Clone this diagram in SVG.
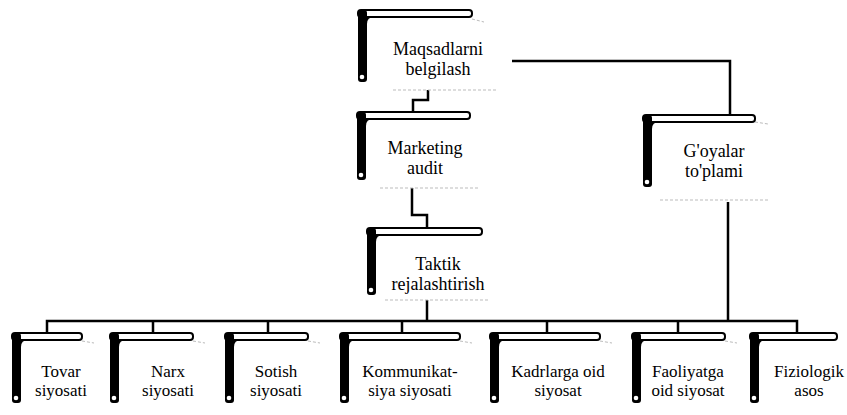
<svg xmlns="http://www.w3.org/2000/svg" width="847" height="415" viewBox="0 0 847 415">
<style>
.tab{fill:#fff;stroke:#000;stroke-width:2}
.bar{fill:#000}
.hole{fill:#fff}
.page{fill:none;stroke:#bbb;stroke-width:1;stroke-dasharray:3 2}
.conn{fill:none;stroke:#000;stroke-width:2.5}
.t1{font-family:"Liberation Serif","Times New Roman",serif;font-size:18px;fill:#000;text-anchor:middle}
.t2{font-family:"Liberation Serif","Times New Roman",serif;font-size:17px;fill:#000;text-anchor:middle}
</style>
<rect width="847" height="415" fill="#fff"/>
<g id="connectors">
<path class="conn" d="M428,90 V100 H413 V112"/>
<path class="conn" d="M412,188 V215 H427 V228"/>
<path class="conn" d="M427,300 V321"/>
<path class="conn" d="M512,61 H730 V115"/>
<path class="conn" d="M728,202 V321"/>
<path class="conn" d="M47,333 V321 H797 V333"/>
<path class="conn" d="M153,321 V333 M268,321 V333 M402,321 V333 M547,321 V333 M678,321 V333"/>
</g>
<g id="n-maqsad">
<line class="page" x1="393" y1="90" x2="497" y2="90"/>
<line class="page" x1="472" y1="19" x2="484" y2="22"/>
<rect class="tab" x="358" y="10" width="114" height="7" rx="3"/>
<rect class="bar" x="358" y="10" width="9" height="72" rx="3"/>
<path class="bar" d="M367,17 h7 q-7,0 -7,7 z"/>
<circle class="hole" cx="362" cy="77" r="2.3"/>
<text class="t1" x="438" y="55">Maqsadlarni</text>
<text class="t1" x="438" y="75">belgilash</text>
</g>
<g id="n-marketing">
<line class="page" x1="380" y1="188" x2="480" y2="188"/>
<rect class="tab" x="357" y="112" width="113" height="7" rx="3"/>
<rect class="bar" x="357" y="112" width="9" height="68" rx="3"/>
<path class="bar" d="M366,119 h7 q-7,0 -7,7 z"/>
<circle class="hole" cx="361" cy="175" r="2.3"/>
<text class="t1" x="425" y="154">Marketing</text>
<text class="t1" x="425" y="174">audit</text>
</g>
<g id="n-taktik">
<line class="page" x1="385" y1="300" x2="490" y2="300"/>
<rect class="tab" x="367" y="228" width="115" height="7" rx="3"/>
<rect class="bar" x="367" y="228" width="9" height="67" rx="3"/>
<path class="bar" d="M376,235 h7 q-7,0 -7,7 z"/>
<circle class="hole" cx="371" cy="290" r="2.3"/>
<text class="t1" x="438" y="270">Taktik</text>
<text class="t1" x="438" y="290">rejalashtirish</text>
</g>
<g id="n-goyalar">
<line class="page" x1="660" y1="200" x2="770" y2="200"/>
<line class="page" x1="755" y1="122" x2="768" y2="124"/>
<rect class="tab" x="643" y="115" width="112" height="7" rx="3"/>
<rect class="bar" x="643" y="115" width="9" height="72" rx="3"/>
<path class="bar" d="M652,122 h7 q-7,0 -7,7 z"/>
<circle class="hole" cx="647" cy="182" r="2.3"/>
<text class="t1" x="714" y="157">G'oyalar</text>
<text class="t1" x="714" y="177">to'plami</text>
</g>
<g id="n-tovar">
<line class="page" x1="82" y1="341" x2="94" y2="343"/>
<rect class="tab" x="12" y="333" width="70" height="7" rx="3"/>
<rect class="bar" x="12" y="333" width="9" height="70" rx="3"/>
<path class="bar" d="M21,340 h7 q-7,0 -7,7 z"/>
<circle class="hole" cx="16" cy="398" r="2.3"/>
<text class="t2" x="61" y="377">Tovar</text>
<text class="t2" x="61" y="396">siyosati</text>
</g>
<g id="n-narx">
<line class="page" x1="193" y1="341" x2="205" y2="343"/>
<rect class="tab" x="110" y="333" width="83" height="7" rx="3"/>
<rect class="bar" x="110" y="333" width="9" height="70" rx="3"/>
<path class="bar" d="M119,340 h7 q-7,0 -7,7 z"/>
<circle class="hole" cx="114" cy="398" r="2.3"/>
<text class="t2" x="168" y="377">Narx</text>
<text class="t2" x="168" y="396">siyosati</text>
</g>
<g id="n-sotish">
<line class="page" x1="308" y1="341" x2="320" y2="343"/>
<rect class="tab" x="225" y="333" width="83" height="7" rx="3"/>
<rect class="bar" x="225" y="333" width="9" height="70" rx="3"/>
<path class="bar" d="M234,340 h7 q-7,0 -7,7 z"/>
<circle class="hole" cx="229" cy="398" r="2.3"/>
<text class="t2" x="276" y="377">Sotish</text>
<text class="t2" x="276" y="396">siyosati</text>
</g>
<g id="n-kommunikat">
<line class="page" x1="460" y1="341" x2="472" y2="343"/>
<rect class="tab" x="340" y="333" width="120" height="7" rx="3"/>
<rect class="bar" x="340" y="333" width="9" height="70" rx="3"/>
<path class="bar" d="M349,340 h7 q-7,0 -7,7 z"/>
<circle class="hole" cx="344" cy="398" r="2.3"/>
<text class="t2" x="410" y="377">Kommunikat-</text>
<text class="t2" x="410" y="396">siya siyosati</text>
</g>
<g id="n-kadr">
<line class="page" x1="600" y1="341" x2="612" y2="343"/>
<rect class="tab" x="490" y="333" width="110" height="7" rx="3"/>
<rect class="bar" x="490" y="333" width="9" height="70" rx="3"/>
<path class="bar" d="M499,340 h7 q-7,0 -7,7 z"/>
<circle class="hole" cx="494" cy="398" r="2.3"/>
<text class="t2" x="558" y="377">Kadrlarga oid</text>
<text class="t2" x="558" y="396">siyosat</text>
</g>
<g id="n-faoliyat">
<line class="page" x1="725" y1="341" x2="737" y2="343"/>
<rect class="tab" x="632" y="333" width="93" height="7" rx="3"/>
<rect class="bar" x="632" y="333" width="9" height="70" rx="3"/>
<path class="bar" d="M641,340 h7 q-7,0 -7,7 z"/>
<circle class="hole" cx="636" cy="398" r="2.3"/>
<text class="t2" x="688" y="377">Faoliyatga</text>
<text class="t2" x="688" y="396">oid siyosat</text>
</g>
<g id="n-fiziolog">
<rect class="tab" x="750" y="333" width="87" height="7" rx="3"/>
<rect class="bar" x="750" y="333" width="9" height="70" rx="3"/>
<path class="bar" d="M759,340 h7 q-7,0 -7,7 z"/>
<circle class="hole" cx="754" cy="398" r="2.3"/>
<text class="t2" x="809" y="377">Fiziologik</text>
<text class="t2" x="809" y="396">asos</text>
</g>
</svg>
